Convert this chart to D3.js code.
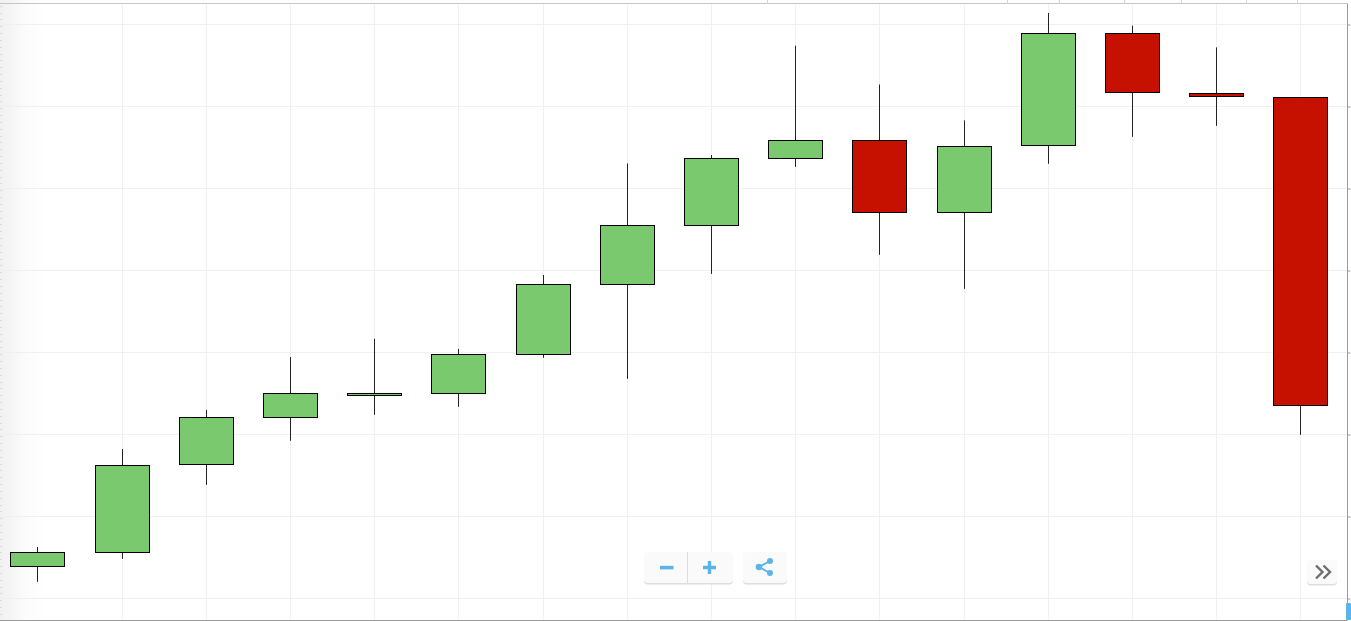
<!DOCTYPE html>
<html>
<head>
<meta charset="utf-8">
<title>Candlestick chart</title>
<script src="https://cdn.jsdelivr.net/npm/d3@7/dist/d3.min.js"></script>
<style>
  html, body { margin: 0; padding: 0; background: #fff; overflow: hidden; }
  svg { display: block; }
</style>
</head>
<body>
<div id="chart"></div>
<script>
// Price series, one entry per session
const sessions = [0, 1, 2, 3, 4, 5, 6, 7, 8, 9, 10, 11, 12, 13, 14, 15];
const opens  = [3.84, 5.55, 16.28, 22.01, 24.70, 24.94, 29.70, 38.23, 45.43, 53.60, 55.79, 47.01, 55.18, 68.84, 61.52, 61.04];
const closes = [5.55, 16.16, 22.01, 24.94, 24.94, 29.70, 38.23, 45.43, 53.60, 55.79, 47.01, 55.06, 68.84, 61.65, 61.16, 23.48];
const highs  = [6.22, 18.17, 22.93, 29.39, 31.62, 30.37, 39.39, 52.99, 54.02, 67.35, 62.62, 58.25, 71.34, 69.80, 67.15, 61.04];
const lows   = [1.97, 4.78, 13.80, 19.17, 22.34, 23.31, 29.29, 26.73, 39.53, 52.58, 41.85, 37.70, 52.95, 56.24, 57.58, 19.90];

// Axis ticks: horizontal grid levels, and the navigator's tick marks along the top edge
const priceTicks = [0, 10, 20, 30, 40, 50, 60, 70];
const topEdgeTicks = [8.67, 11.52, 12.13, 12.91, 13.58, 14.35, 14.96];
const minorTickStep = 10 / 12;

const width = 1351, height = 621;
const plotRight = 1347.5, plotTop = 3.5, plotBottom = 620.5;
const colours = { up: "#7bc96f", down: "#c61000", grid: "#f0f0f0", blue: "#5cb3e6" };

const x = d3.scaleLinear().domain([0, 15]).range([37.3, 1300.3]);
const y = d3.scaleLinear().domain([0, 70]).range([598, 24]);
const snapX = v => Math.round(x(v)) + 0.5;
const snapY = v => Math.round(y(v) - 0.5) + 0.5;

const svg = d3.select("#chart").append("svg").attr("width", width).attr("height", height);

// Soft shading that fades in from the left edge
const fade = svg.append("defs").append("linearGradient").attr("id", "leftFade");
fade.append("stop").attr("offset", 0).attr("stop-color", "#f1f1f1");
fade.append("stop").attr("offset", 0.22).attr("stop-color", "#f4f4f4");
fade.append("stop").attr("offset", 0.5).attr("stop-color", "#fbfbfb");
fade.append("stop").attr("offset", 1).attr("stop-color", "#ffffff");
svg.append("rect").attr("x", 0).attr("y", 0).attr("width", 46).attr("height", plotBottom).attr("fill", "url(#leftFade)");

// Minor tick marks along the left edge
svg.append("g").attr("stroke", "#dadada").selectAll("line")
  .data(d3.range(-2, 75, minorTickStep)).join("line")
  .attr("x1", 0).attr("x2", 2)
  .attr("y1", d => snapY(d)).attr("y2", d => snapY(d));

// Grid
const grid = svg.append("g").attr("stroke", colours.grid).attr("stroke-width", 1);
grid.selectAll("line.h").data(priceTicks).join("line").attr("class", "h")
  .attr("x1", 0).attr("x2", plotRight)
  .attr("y1", d => snapY(d)).attr("y2", d => snapY(d));
grid.selectAll("line.v").data(sessions.slice(1)).join("line").attr("class", "v")
  .attr("x1", d => snapX(d)).attr("x2", d => snapX(d))
  .attr("y1", plotTop).attr("y2", plotBottom);

// Frame
const frame = svg.append("g").attr("fill", "none");
frame.append("line").attr("x1", 0).attr("x2", plotRight).attr("y1", plotTop).attr("y2", plotTop).attr("stroke", "#c6c6c6");
frame.append("line").attr("x1", 0).attr("x2", plotRight).attr("y1", plotBottom).attr("y2", plotBottom).attr("stroke", "#9a9a9a");
frame.append("line").attr("x1", plotRight).attr("x2", plotRight).attr("y1", plotTop).attr("y2", plotBottom).attr("stroke", "#9a9a9a");

// Tick marks on the right and top edges, labels hidden
const rightAxis = d3.axisRight(y).tickValues(priceTicks).tickSize(3).tickFormat("");
svg.append("g").attr("transform", `translate(${plotRight},0.5)`).call(rightAxis)
  .call(g => g.select(".domain").remove())
  .call(g => g.selectAll("line").attr("stroke", "#9a9a9a"));
svg.append("g").attr("stroke", "#d6d6d6").selectAll("line").data(topEdgeTicks).join("line")
  .attr("x1", d => snapX(d)).attr("x2", d => snapX(d)).attr("y1", 0).attr("y2", plotTop);

// Candles
const candles = svg.append("g").selectAll("g").data(sessions).join("g");
candles.append("line")
  .attr("x1", d => snapX(d)).attr("x2", d => snapX(d))
  .attr("y1", d => y(highs[d])).attr("y2", d => y(lows[d]))
  .attr("stroke", "#222").attr("stroke-width", 1);
candles.append("rect")
  .attr("x", d => snapX(d) - 27)
  .attr("width", 54)
  .attr("y", d => snapY(Math.max(opens[d], closes[d])))
  .attr("height", d => snapY(Math.min(opens[d], closes[d])) - snapY(Math.max(opens[d], closes[d])))
  .attr("fill", d => closes[d] >= opens[d] ? colours.up : colours.down)
  .attr("stroke", "#000").attr("stroke-width", 1);

// Floating control buttons
function button(px, py, w, h) {
  const g = svg.append("g").attr("transform", `translate(${px},${py})`);
  g.append("rect").attr("x", 0).attr("y", 1.5).attr("width", w).attr("height", h).attr("rx", 4).attr("fill", "#dedede");
  g.append("rect").attr("x", 0).attr("y", 0).attr("width", w).attr("height", h).attr("rx", 4).attr("fill", "#fafafa");
  return g;
}
const zoomGroup = button(644, 552, 89, 31);
zoomGroup.append("line").attr("x1", 43.5).attr("x2", 43.5).attr("y1", 0).attr("y2", 31).attr("stroke", "#dcdcdc");
zoomGroup.append("rect").attr("x", 16).attr("y", 13.8).attr("width", 13.5).attr("height", 3.6).attr("fill", colours.blue);
zoomGroup.append("path").attr("d", "M59 15.5h13M65.5 9v13").attr("stroke", colours.blue).attr("stroke-width", 3.4).attr("fill", "none");

const share = button(743, 552, 44, 31);
share.append("path").attr("d", "M16 15L27 9M16 15L27 21").attr("stroke", colours.blue).attr("stroke-width", 1.8).attr("fill", "none");
[[16, 15, 3.3], [27, 9, 3], [27, 21, 3]].forEach(c =>
  share.append("circle").attr("cx", c[0]).attr("cy", c[1]).attr("r", c[2]).attr("fill", colours.blue));

const expand = button(1307, 560, 30, 24);
expand.append("path").attr("d", "M9 5.5l6.5 6.5l-6.5 6.5M16.5 5.5l6.5 6.5l-6.5 6.5")
  .attr("stroke", "#6e6e6e").attr("stroke-width", 2.4).attr("fill", "none");

// Scrollbar handle in the corner
svg.append("rect").attr("x", 1346).attr("y", 603).attr("width", 5).attr("height", 17).attr("rx", 1).attr("fill", colours.blue);
</script>
</body>
</html>
